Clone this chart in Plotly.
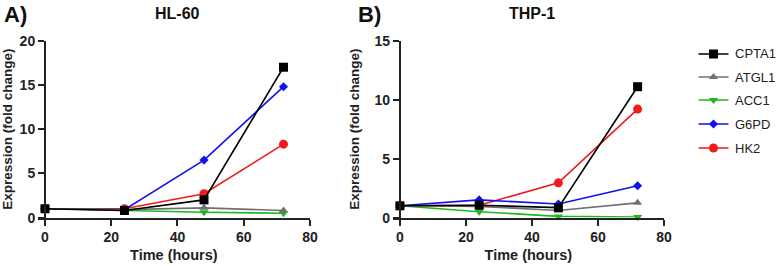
import plotly.graph_objects as go

time_h = [0, 24, 48, 72]
genes = ["CPTA1", "ATGL1", "ACC1", "G6PD", "HK2"]
colors = ["#000000", "#707070", "#1cb81c", "#1010f0", "#f01a1a"]
symbols = ["square", "triangle-up", "triangle-down", "diamond", "circle"]
msizes = [9, 8, 8, 7, 9]

hl60 = {
    "CPTA1": [1.0, 0.8, 2.0, 17.0],
    "ATGL1": [1.0, 0.9, 1.1, 0.8],
    "ACC1": [1.0, 0.8, 0.6, 0.5],
    "G6PD": [1.0, 0.9, 6.5, 14.8],
    "HK2": [1.0, 1.0, 2.7, 8.3],
}
thp1 = {
    "CPTA1": [1.0, 1.05, 0.85, 11.1],
    "ATGL1": [1.0, 0.95, 0.6, 1.25],
    "ACC1": [1.0, 0.5, 0.1, 0.05],
    "G6PD": [1.0, 1.5, 1.15, 2.7],
    "HK2": [1.0, 1.05, 2.95, 9.2],
}

W, H = 777, 266
FONT = "Liberation Sans, Arial, sans-serif"

def px(x):
    return x / W

def py(y):
    return 1 - y / H

xr = [-2.2, 80]
A_dom = [px(37.7), px(310)]
B_dom = [px(392.7), px(664)]
y_dom = [py(217.6), py(40.7)]

def zero_pos(dom):
    return dom[0] + (dom[1] - dom[0]) * (0 - xr[0]) / (xr[1] - xr[0])

legend_rows = [54, 77, 100, 124, 148]  # pixel rows of legend entries

fig = go.Figure()
order = ["HK2", "G6PD", "ACC1", "ATGL1", "CPTA1"]
for panel, data, xa, ya in [(0, hl60, "x", "y"), (1, thp1, "x2", "y2")]:
    for g in order:
        i = genes.index(g)
        lg = "legend" if i == 0 else f"legend{i + 1}"
        fig.add_trace(go.Scatter(
            x=time_h, y=data[g], xaxis=xa, yaxis=ya,
            mode="lines+markers", name="", legend=lg,
            hovertemplate=g + "<br>%{x} h: %{y}<extra></extra>",
            line=dict(color=colors[i], width=1.6),
            marker=dict(symbol=symbols[i], size=msizes[i], color=colors[i]),
            showlegend=(panel == 1), cliponaxis=False,
        ))

tickfont = dict(family=FONT, size=14, color="#222", weight="bold")
ytitlefont = dict(family=FONT, size=13.5, color="#222", weight="bold")
xtitlefont = dict(family=FONT, size=14.5, color="#222", weight="bold")

def xaxis(dom, anchor):
    return dict(domain=dom, range=xr, anchor=anchor, showline=True, linecolor="#222",
                linewidth=2, ticks="outside", ticklen=6, tickwidth=2, tickcolor="#222",
                tickvals=[0, 20, 40, 60, 80], showgrid=False, zeroline=False,
                automargin=False,
                tickfont=tickfont, title=dict(text="Time (hours)", font=xtitlefont, standoff=5))

def yaxis(dom_x, rng, tv):
    return dict(domain=y_dom, range=rng, anchor="free", position=zero_pos(dom_x),
                showline=True, linecolor="#222", linewidth=2, ticks="outside", ticklen=6,
                tickwidth=2, tickcolor="#222", tickvals=tv, showgrid=False, zeroline=False,
                automargin=False, tickfont=tickfont,
                title=dict(text="Expression (fold change)", font=ytitlefont, standoff=11))

layout = dict(
    width=W, height=H, margin=dict(l=0, r=0, t=0, b=0, pad=0, autoexpand=False),
    plot_bgcolor="white", paper_bgcolor="white",
    xaxis=xaxis(A_dom, "y"), yaxis=yaxis(A_dom, [0, 20], [0, 5, 10, 15, 20]),
    xaxis2=xaxis(B_dom, "y2"), yaxis2=yaxis(B_dom, [0, 15], [0, 5, 10, 15]),
    showlegend=True,
)
for i, row in enumerate(legend_rows):
    key = "legend" if i == 0 else f"legend{i + 1}"
    layout[key] = dict(x=px(693.5), y=py(row), xanchor="left", yanchor="middle",
                       font=dict(family=FONT, size=12, color="#222"),
                       bgcolor="rgba(0,0,0,0)", borderwidth=0)
fig.update_layout(**layout)

for i, row in enumerate(legend_rows):
    fig.add_annotation(text=genes[i], x=px(733), y=py(row), xref="paper", yref="paper",
                       xanchor="left", yanchor="middle", showarrow=False,
                       font=dict(family=FONT, size=13, color="#222"))

annots = [
    dict(text="A)", x=px(2), y=py(15), xanchor="left", size=22),
    dict(text="HL-60", x=px(177.5), y=py(14), xanchor="center", size=16),
    dict(text="B)", x=px(356), y=py(15), xanchor="left", size=22),
    dict(text="THP-1", x=px(531.5), y=py(14), xanchor="center", size=16),
]
for a in annots:
    fig.add_annotation(text=a["text"], x=a["x"], y=a["y"], xref="paper", yref="paper",
                       xanchor=a["xanchor"], yanchor="middle", showarrow=False,
                       font=dict(family=FONT, size=a["size"], color="#111", weight="bold"))

fig.write_html(
    "out.html",
    config={"displayModeBar": False},
    post_script="document.body.style.margin='0';document.body.style.overflow='hidden';",
)
